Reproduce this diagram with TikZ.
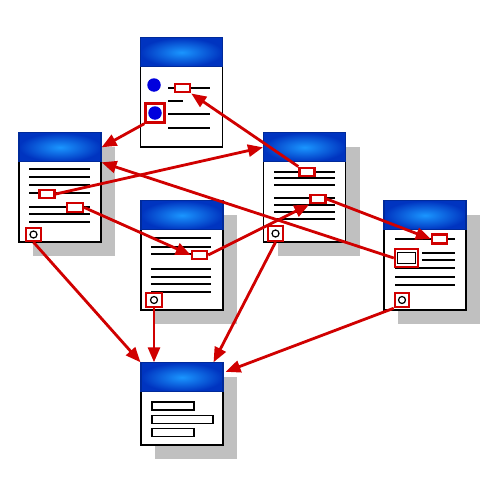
\documentclass[tikz,border=0pt]{standalone}
\usepackage{tikz}
\usepackage{xcolor}
\usetikzlibrary{arrows.meta,calc,shadows}
\definecolor{LinkRed}{HTML}{D00000}
\definecolor{HeadDark}{HTML}{0034C0}
\definecolor{HeadLight}{HTML}{1A96FF}
\definecolor{DotBlue}{HTML}{0000DD}
\definecolor{Shade}{HTML}{C0C0C0}
\tikzset{
  page/.style={draw=black,fill=white,line width=0.8pt,minimum width=16.4mm,minimum height=21.8mm,inner sep=0pt},
  shadowed/.style={drop shadow={shadow xshift=2.8mm,shadow yshift=-2.8mm,fill=Shade,opacity=1}},
  header/.style={draw=HeadDark!80!black,line width=0.6pt,inner color=HeadLight,outer color=HeadDark,minimum width=16.4mm,minimum height=5.8mm,inner sep=0pt,anchor=north},
  txt/.style={draw=black,line width=1pt},
  linkbox/.style={draw=LinkRed,fill=white,line width=1.4pt,inner sep=0pt,minimum width=3mm,minimum height=1.7mm},
  hole/.style={circle,draw=black,fill=white,line width=0.7pt,minimum size=1.4mm,inner sep=0pt},
  field/.style={draw=black,fill=white,line width=0.7pt,inner sep=0pt,minimum height=1.6mm},
  dot/.style={circle,fill=DotBlue,minimum size=2.7mm,inner sep=0pt},
  link/.style={-{Triangle[length=3mm,width=2.4mm]},draw=LinkRed,line width=1.6pt}
}
\begin{document}
\begin{tikzpicture}[x=0.2mm,y=-0.2mm]
  \useasboundingbox (0,0) rectangle (500,500);
  % pages
  \node[page] (pA) at (181.5,92.5) {};
  \node[page,shadowed] (pB) at (60,187.5) {};
  \node[page,shadowed] (pC) at (304.5,187.5) {};
  \node[page,shadowed] (pD) at (182,255.5) {};
  \node[page,shadowed] (pE) at (425,255.5) {};
  \node[page,shadowed,minimum height=16.4mm] (pF) at (182,404) {};
  \foreach \p in {A,B,C,D,E,F}
    \node[header] (h\p) at (p\p.north) {};
  % text lines
  \foreach \y in {88,114,128} \draw[txt] (168,\y) -- (210,\y);
  \draw[txt] (168,101) -- (183,101);
  \foreach \y in {169,177,185,193,207,214,222} \draw[txt] (29,\y) -- (90,\y);
  \foreach \y in {172,178,185,198,205,212,219} \draw[txt] (274,\y) -- (335,\y);
  \foreach \y in {238,247,254,269,277,284,292} \draw[txt] (151,\y) -- (211,\y);
  \foreach \y in {239,268,277,285} \draw[txt] (395,\y) -- (455,\y);
  \foreach \y in {253,260} \draw[txt] (422,\y) -- (455,\y);
  % anchors
  \node[dot] (dotA1) at (154,85) {};
  \node[linkbox,minimum width=3.8mm,minimum height=3.8mm] (a2) at (155,113) {};
  \node[dot] (dotA2) at (a2) {};
  \node[linkbox] (a1) at (182.5,88) {};
  \node[linkbox] (b1) at (47,194) {};
  \node[linkbox,minimum width=3.2mm,minimum height=1.8mm] (b2) at (75,207.5) {};
  \node[linkbox,minimum width=3mm,minimum height=2.6mm] (bc) at (33.5,234.5) {};
  \node[hole] (bch) at (bc) {};
  \node[linkbox] (c1) at (307,172) {};
  \node[linkbox] (c2) at (318,199) {};
  \node[linkbox,minimum width=3mm,minimum height=3mm] (cc) at (275.5,233.5) {};
  \node[hole] (cch) at (cc) {};
  \node[linkbox] (d1) at (199.5,255) {};
  \node[linkbox,minimum width=3.2mm,minimum height=2.8mm] (dc) at (154,300) {};
  \node[hole] (dch) at (dc) {};
  \node[linkbox,minimum height=1.8mm] (e1) at (439.5,239) {};
  \node[linkbox,minimum width=4.6mm,minimum height=3.6mm] (e2) at (406.5,258) {};
  \node[field,minimum width=3.6mm,minimum height=2.2mm] (e2f) at (e2) {};
  \node[linkbox,minimum width=2.8mm,minimum height=2.8mm] (ec) at (402,300) {};
  \node[hole] (ech) at (ec) {};
  \node[field,minimum width=8.4mm] (f1) at (173,406) {};
  \node[field,minimum width=12.2mm] (f2) at (182.5,419.5) {};
  \node[field,minimum width=8.4mm] (f3) at (173,432.5) {};
  % links
  \draw[link] (a2.south west) -- (hB.east);
  \draw[link] (c1.north west) -- (a1.south east);
  \draw[link] (b1.east) -- (hC.west);
  \draw[link] (e2.west) -- (hB.south east);
  \draw[link] (b2.east) -- (d1.west);
  \draw[link] (d1.east) -- (c2.south west);
  \draw[link] (c2.east) -- (e1.west);
  \draw[link] (bc.south) -- (hF.north west);
  \draw[link] (dc.south) -- (dc.south |- hF.north);
  \draw[link] (cc.south) -- ($(hF.north east)+(-10,0)$);
  \draw[link] (ec.south west) -- ($(hF.east)+(2,-5.5)$);
\end{tikzpicture}
\end{document}
